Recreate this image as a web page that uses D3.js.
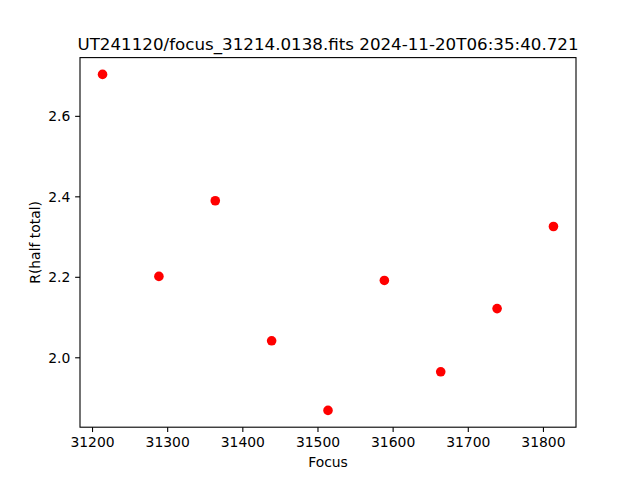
<!DOCTYPE html>
<html>
<head>
<meta charset="utf-8">
<script src="https://cdn.jsdelivr.net/npm/d3@7"></script>
<style>
body { margin: 0; background: #fff; }
svg { display: block; font-family: "DejaVu Sans", sans-serif; }
</style>
</head>
<body>
<svg id="chart" width="640" height="480"></svg>
<script>
const title = "UT241120/focus_31214.0138.fits 2024-11-20T06:35:40.721";
const xLabel = "Focus";
const yLabel = "R(half total)";
const focusValues = [31214, 31289, 31364, 31439, 31514, 31589, 31664, 31739, 31814];
const rValues = [2.703, 2.201, 2.389, 2.041, 1.868, 2.191, 1.964, 2.121, 2.325];
const xTicks = [31200, 31300, 31400, 31500, 31600, 31700, 31800];
const yTicks = [2.0, 2.2, 2.4, 2.6];

(function () {
const W = 640, H = 480;
const mLeft = 80, mRight = 576, mTop = 57.6, mBottom = 427.2;
const svg = d3.select("#chart");
svg.append("rect").attr("width", W).attr("height", H).attr("fill", "#fff");

const xMin = d3.min(focusValues), xMax = d3.max(focusValues);
const yMin = d3.min(rValues), yMax = d3.max(rValues);
const xm = (xMax - xMin) * 0.05, ym = (yMax - yMin) * 0.05;
const x = d3.scaleLinear().domain([xMin - xm, xMax + xm]).range([mLeft, mRight]);
const y = d3.scaleLinear().domain([yMin - ym, yMax + ym]).range([mBottom, mTop]);

const tickLen = 4.86, pad = 4.86;

const xAxis = d3.axisBottom(x).tickValues(xTicks).tickFormat(d3.format("d"))
  .tickSizeInner(tickLen).tickSizeOuter(0).tickPadding(pad);
const gx = svg.append("g").attr("transform", `translate(0,${mBottom})`).call(xAxis);
gx.select(".domain").remove();
gx.selectAll(".tick line").attr("stroke", "#000").attr("stroke-width", 1.1);
gx.selectAll(".tick text").attr("font-size", 13.9).attr("fill", "#000")
  .attr("font-family", "DejaVu Sans, sans-serif").attr("dy", "0.72em");

const yAxis = d3.axisLeft(y).tickValues(yTicks).tickFormat(d3.format(".1f"))
  .tickSizeInner(tickLen).tickSizeOuter(0).tickPadding(pad);
const gy = svg.append("g").attr("transform", `translate(${mLeft},0)`).call(yAxis);
gy.select(".domain").remove();
gy.selectAll(".tick line").attr("stroke", "#000").attr("stroke-width", 1.1);
gy.selectAll(".tick text").attr("font-size", 13.9).attr("fill", "#000")
  .attr("font-family", "DejaVu Sans, sans-serif").attr("dy", "0.36em");

svg.append("g").selectAll("circle").data(focusValues).join("circle")
  .attr("cx", (d) => x(d))
  .attr("cy", (d, i) => y(rValues[i]))
  .attr("r", 4.8)
  .attr("fill", "#ff0000");

svg.append("rect").attr("x", mLeft).attr("y", mTop)
  .attr("width", mRight - mLeft).attr("height", mBottom - mTop)
  .attr("fill", "none").attr("stroke", "#000").attr("stroke-width", 1.1);

svg.append("text").attr("x", (mLeft + mRight) / 2).attr("y", 49.5)
  .attr("text-anchor", "middle").attr("font-size", 16.7).attr("fill", "#000")
  .text(title);

svg.append("text").attr("x", (mLeft + mRight) / 2).attr("y", 467)
  .attr("text-anchor", "middle").attr("font-size", 13.9).attr("fill", "#000")
  .text(xLabel);

svg.append("text").attr("transform", `translate(39.5,${(mTop + mBottom) / 2}) rotate(-90)`)
  .attr("text-anchor", "middle").attr("font-size", 13.9).attr("fill", "#000")
  .text(yLabel);
})();
</script>
</body>
</html>
